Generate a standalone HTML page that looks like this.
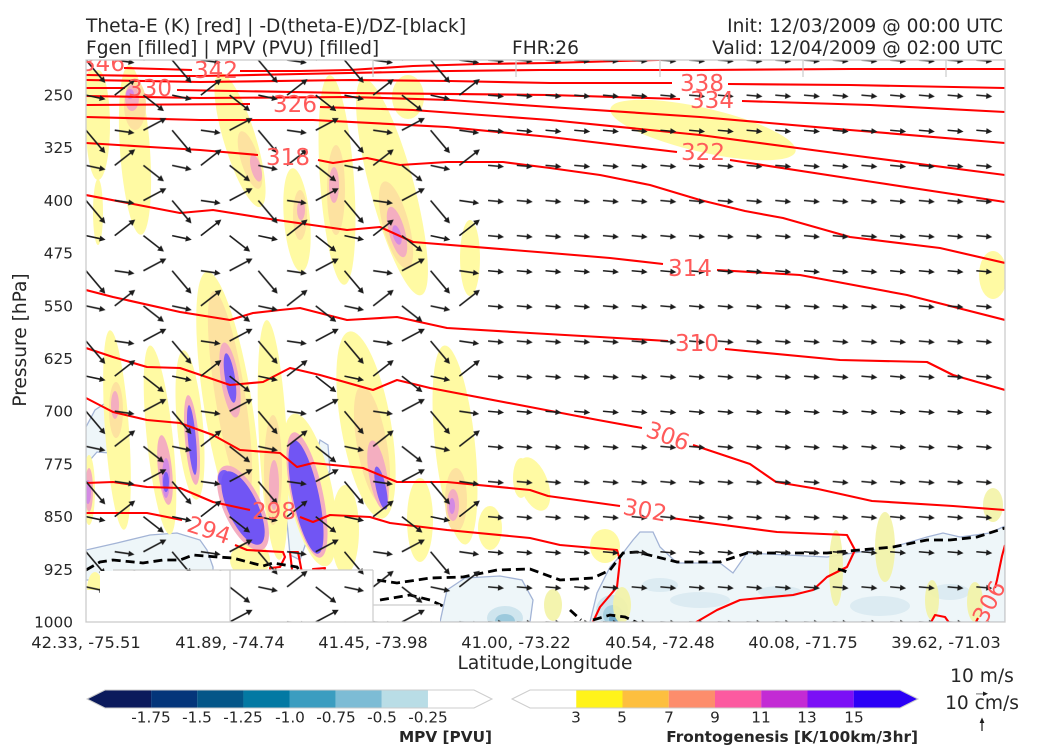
<!DOCTYPE html>
<html><head><meta charset="utf-8"><style>
html,body{margin:0;padding:0;background:#fff;}
svg{display:block;font-family:"DejaVu Sans","Liberation Sans",sans-serif;}
</style></head><body>
<svg width="1050" height="750" viewBox="0 0 1050 750" xmlns="http://www.w3.org/2000/svg">
<defs>
<clipPath id="pc"><rect x="86" y="60" width="919" height="562"/></clipPath>
<path id="a16" d="M0,-0.8H10V-3L16,0L10,3V0.8H0Z" fill="#1c1c1c"/>
<path id="a20" d="M0,-0.8H14V-3L20,0L14,3V0.8H0Z" fill="#1c1c1c"/>
<path id="a26" d="M0,-0.8H20V-3.2L26,0L20,3.2V0.8H0Z" fill="#1c1c1c"/>
<path id="a30" d="M0,-0.8H24V-3.2L30,0L24,3.2V0.8H0Z" fill="#1c1c1c"/>
<pattern id="pR" x="80" y="42.44" width="28.72" height="35.125" patternUnits="userSpaceOnUse">
<use href="#a16" transform="translate(6,17.56) rotate(5)"/>
</pattern>
<pattern id="pLA" x="84" y="30" width="86.16" height="70.25" patternUnits="userSpaceOnUse">
<use href="#a30" transform="translate(2,30) rotate(50)"/>
<use href="#a20" transform="translate(30.72,30) rotate(8)"/>
<use href="#a26" transform="translate(59.44,30) rotate(-28)"/>
</pattern>
<pattern id="pLB" x="84" y="65.125" width="86.16" height="70.25" patternUnits="userSpaceOnUse">
<use href="#a20" transform="translate(2,30) rotate(12)"/>
<use href="#a26" transform="translate(30.72,30) rotate(-38)"/>
<use href="#a26" transform="translate(59.44,30) rotate(38)"/>
</pattern>
</defs>

<!-- Titles -->
<g fill="#262626" font-size="18.6">
<text x="86" y="32">Theta-E (K) [red] | -D(theta-E)/DZ-[black]</text>
<text x="86" y="54">Fgen [filled] | MPV (PVU) [filled]</text>
<text x="512" y="54">FHR:26</text>
<text x="1003" y="32" text-anchor="end">Init: 12/03/2009 @ 00:00 UTC</text>
<text x="1003" y="54" text-anchor="end">Valid: 12/04/2009 @ 02:00 UTC</text>
</g>

<g clip-path="url(#pc)">
<rect x="86" y="60" width="919" height="562" fill="#fff"/>

<!-- MPV light blue regions -->
<g fill="#eef6f9" stroke="#a3b4d6" stroke-width="1.3">
<path d="M590,622 L597,593 L610,567 L623,553 L633,540 L640,532 L653,532 L660,547 L677,563 L720,563 L733,573 L747,553 L827,557 L860,552 L893,547 L927,537 L943,533 L960,537 L990,533 L1005,526 L1005,622 Z"/>
<path d="M440,622 L447,590 L465,578 L500,576 L522,580 L533,600 L530,622 Z"/>
<path d="M86,550 L117,543 L150,535 L177,533 L200,540 L207,550 L213,567 L213,580 L86,580 Z"/>
<path d="M86,427 L95,410 L107,402 L110,417 L113,433 L120,443 L110,453 L97,452 L90,460 L86,462 Z"/>
<path d="M287,440 L293,430 L300,445 L305,480 L307,540 L300,560 L290,555 L285,500 Z"/>
<path d="M313,470 L320,440 L328,445 L330,470 L322,490 L315,487 Z"/>
<path d="M360,440 L365,418 L375,420 L378,450 L372,478 L362,470 Z"/>
<path d="M177,410 L183,400 L188,420 L186,440 L179,437 Z"/>
</g>
<g stroke="none">
<ellipse cx="700" cy="600" rx="30" ry="8" fill="#dcebf2"/>
<ellipse cx="780" cy="592" rx="22" ry="6" fill="#dcebf2"/>
<ellipse cx="880" cy="606" rx="30" ry="10" fill="#dcebf2"/>
<ellipse cx="950" cy="592" rx="20" ry="8" fill="#dcebf2"/>
<ellipse cx="660" cy="585" rx="18" ry="7" fill="#dcebf2"/>
<ellipse cx="612" cy="610" rx="16" ry="15" fill="#cfe5ee"/>
<ellipse cx="613" cy="615" rx="10" ry="10" fill="#a8d0e0"/>
<ellipse cx="614" cy="619" rx="5" ry="5" fill="#6fa8c8"/>
<ellipse cx="505" cy="618" rx="18" ry="12" fill="#cfe5ee"/>
<ellipse cx="505" cy="621" rx="10" ry="7" fill="#9cc9dc"/>
</g>

<!-- Frontogenesis blobs -->
<g stroke="none">
<g fill="#fffaa3">
<ellipse cx="98" cy="125" rx="12" ry="55"/>
<ellipse cx="92" cy="88" rx="8" ry="18"/>
<ellipse cx="98" cy="212" rx="5" ry="33"/>
<ellipse cx="135" cy="150" rx="15" ry="85" transform="rotate(-4 135 150)"/>
<ellipse cx="240" cy="140" rx="16" ry="70" transform="rotate(-17 240 140)"/>
<ellipse cx="297" cy="220" rx="13" ry="52" transform="rotate(-5 297 220)"/>
<ellipse cx="337" cy="180" rx="17" ry="105" transform="rotate(-4 337 180)"/>
<ellipse cx="392" cy="187" rx="22" ry="112" transform="rotate(-15 392 187)"/>
<ellipse cx="408" cy="97" rx="16" ry="22"/>
<ellipse cx="470" cy="258" rx="10" ry="38"/>
<ellipse cx="703" cy="130" rx="95" ry="22" transform="rotate(13 703 130)"/>
<ellipse cx="993" cy="275" rx="14" ry="24"/>
<ellipse cx="89" cy="490" rx="6" ry="35"/>
<ellipse cx="117" cy="430" rx="12" ry="100" transform="rotate(-4 117 430)"/>
<ellipse cx="160" cy="440" rx="13" ry="95" transform="rotate(-6 160 440)"/>
<ellipse cx="190" cy="425" rx="13" ry="75" transform="rotate(-5 190 425)"/>
<ellipse cx="228" cy="405" rx="24" ry="135" transform="rotate(-9 228 405)"/>
<ellipse cx="273" cy="440" rx="14" ry="120" transform="rotate(-3 273 440)"/>
<ellipse cx="310" cy="490" rx="22" ry="78" transform="rotate(-12 310 490)"/>
<ellipse cx="345" cy="530" rx="14" ry="45"/>
<ellipse cx="366" cy="425" rx="25" ry="95" transform="rotate(-10 366 425)"/>
<ellipse cx="420" cy="520" rx="13" ry="42"/>
<ellipse cx="455" cy="445" rx="20" ry="100" transform="rotate(-6 455 445)"/>
<ellipse cx="521" cy="478" rx="8" ry="20"/>
<ellipse cx="534" cy="484" rx="14" ry="28" transform="rotate(-20 534 484)"/>
<ellipse cx="490" cy="528" rx="12" ry="22"/>
<ellipse cx="605" cy="546" rx="15" ry="17"/>
<ellipse cx="95" cy="590" rx="8" ry="18"/>
<ellipse cx="250" cy="560" rx="20" ry="18"/>
</g>
<g fill="#f3f3a6" opacity="0.9">
<ellipse cx="836" cy="568" rx="7" ry="38"/>
<ellipse cx="885" cy="547" rx="10" ry="35"/>
<ellipse cx="993" cy="505" rx="10" ry="17"/>
<ellipse cx="932" cy="600" rx="7" ry="20"/>
<ellipse cx="975" cy="602" rx="8" ry="20"/>
<ellipse cx="553" cy="605" rx="9" ry="16"/>
<ellipse cx="622" cy="605" rx="9" ry="18"/>
</g>
<g fill="#fde2a0">
<ellipse cx="135" cy="105" rx="11" ry="25"/>
<ellipse cx="250" cy="160" rx="9" ry="30" transform="rotate(-17 250 160)"/>
<ellipse cx="300" cy="215" rx="7" ry="25"/>
<ellipse cx="336" cy="190" rx="9" ry="45"/>
<ellipse cx="396" cy="225" rx="13" ry="45" transform="rotate(-15 396 225)"/>
<ellipse cx="116" cy="410" rx="7" ry="28"/>
<ellipse cx="230" cy="395" rx="15" ry="105" transform="rotate(-9 230 395)"/>
<ellipse cx="273" cy="470" rx="9" ry="55"/>
<ellipse cx="372" cy="445" rx="15" ry="60" transform="rotate(-10 372 445)"/>
<ellipse cx="456" cy="500" rx="11" ry="32"/>
<ellipse cx="250" cy="520" rx="14" ry="32" transform="rotate(-20 250 520)"/>
</g>
<g fill="#f4aec0">
<ellipse cx="132" cy="98" rx="7" ry="13"/>
<ellipse cx="256" cy="168" rx="5" ry="14" transform="rotate(-15 256 168)"/>
<ellipse cx="301" cy="210" rx="4" ry="10"/>
<ellipse cx="334" cy="185" rx="5" ry="18"/>
<ellipse cx="397" cy="232" rx="8" ry="26" transform="rotate(-15 397 232)"/>
<ellipse cx="89" cy="490" rx="4" ry="22"/>
<ellipse cx="115" cy="405" rx="4" ry="14"/>
<ellipse cx="165" cy="470" rx="7" ry="35" transform="rotate(-6 165 470)"/>
<ellipse cx="192" cy="440" rx="7" ry="45" transform="rotate(-5 192 440)"/>
<ellipse cx="230" cy="380" rx="9" ry="38" transform="rotate(-9 230 380)"/>
<ellipse cx="274" cy="485" rx="5" ry="25"/>
<ellipse cx="378" cy="475" rx="9" ry="35" transform="rotate(-10 378 475)"/>
<ellipse cx="453" cy="505" rx="6" ry="16"/>
<ellipse cx="243" cy="508" rx="19" ry="46" transform="rotate(-25 243 508)"/>
<ellipse cx="307" cy="495" rx="16" ry="64" transform="rotate(-12 307 495)"/>
</g>
<g fill="#d38ae4">
<ellipse cx="130" cy="94" rx="4" ry="5"/>
<ellipse cx="397" cy="235" rx="4" ry="10" transform="rotate(-15 397 235)"/>
<ellipse cx="88" cy="492" rx="3" ry="12"/>
<ellipse cx="166" cy="478" rx="4" ry="20"/>
<ellipse cx="452" cy="506" rx="3" ry="8"/>
</g>
<g fill="#7a5cf5">
<ellipse cx="166" cy="482" rx="3" ry="10"/>
<ellipse cx="192" cy="440" rx="4" ry="35" transform="rotate(-5 192 440)"/>
<ellipse cx="230" cy="378" rx="5" ry="25" transform="rotate(-9 230 378)"/>
<ellipse cx="381" cy="488" rx="5" ry="22" transform="rotate(-12 381 488)"/>
<ellipse cx="224" cy="478" rx="6" ry="8"/>
</g>
<g fill="#7155f4">
<ellipse cx="243" cy="508" rx="15" ry="40" transform="rotate(-25 243 508)"/>
<ellipse cx="306" cy="497" rx="13" ry="58" transform="rotate(-12 306 497)"/>
</g>
</g>

<!-- red contours -->
<g fill="none" stroke="#ff0000" stroke-width="2.1" stroke-linejoin="round">
<polyline points="124,68 160,69 192,70"/>
<polyline points="240,71 300,71 350,70 413,66 480,64 550,63 620,61 695,59"/>
<polyline points="86,75 150,76 200,76 300,74 450,71 540,70 700,70 850,69 1005,69"/>
<polyline points="86,80 200,82 350,80 450,81 550,83 672,83"/>
<polyline points="728,84 850,85 1005,88"/>
<polyline points="86,88 125,88"/>
<polyline points="177,90 347,93 550,95 680,99"/>
<polyline points="742,101 870,105 1005,112"/>
<polyline points="86,96 200,98 350,97 450,100 550,107 700,117 850,130 1005,143"/>
<polyline points="86,105 250,104"/>
<polyline points="320,107 413,110 550,120 700,135 850,155 1005,175"/>
<polyline points="86,117 200,120 313,120 447,127 550,137 677,152"/>
<polyline points="730,160 873,182 1005,202"/>
<polyline points="86,143 150,147 200,150 258,155"/>
<polyline points="318,160 333,163 367,158 400,165 447,162 503,162 550,168 600,175 650,185 700,200 745,211 783,218 850,237 940,248 1005,263"/>
<polyline points="86,195 180,213 213,210 263,218 347,230 380,227 413,242 550,253 610,258 663,264"/>
<polyline points="717,270 800,275 907,295 1005,320"/>
<polyline points="86,290 113,297 180,312 230,320 253,313 280,310 300,308 347,320 397,317 447,328 530,333 600,337 668,341"/>
<polyline points="725,349 840,360 927,362 953,375 1005,390"/>
<polyline points="86,348 113,357 147,367 180,368 230,385 263,382 290,368 320,375 373,390 397,380 430,388 530,407 598,420 642,428"/>
<polyline points="693,445 750,464 776,482 818,489 872,501 953,506 1005,510"/>
<polyline points="86,398 113,412 147,420 180,423 213,435 240,450 280,453 297,467 313,463 363,468 397,482 447,482 530,490 548,496 620,506"/>
<polyline points="671,518 777,532 847,535 855,550 847,567 827,577 813,590 793,595 760,598 740,600 717,610 693,624"/>
<polyline points="86,483 113,482 147,487 180,488 213,502 250,510"/>
<polyline points="300,517 313,522 330,515 370,517 390,523 447,530 530,538 560,545 617,550 620,560 617,587 600,607 592,624"/>
<polyline points="86,513 147,513 182,520"/>
<polyline points="235,545 247,550 283,552 285,557 280,567 270,568 273,587 272,606"/>
<polygon points="290,552 298,552 302,573 293,578"/>
<polygon points="313,569 325,568 323,575 315,576"/>
<polyline points="1005,545 1002,556 997,580 995,588"/>
<polyline points="978,618 975,624"/>
<polyline points="930,624 935,615 945,617 950,624"/>
</g>

<!-- dashed -->
<g fill="none" stroke="#000" stroke-width="2.8" stroke-dasharray="9,5">
<polyline points="86,570 100,562 113,560 143,563 163,560 180,560 193,555 217,557 233,558 263,566 273,563 297,567 310,586 327,580 363,578 397,583 430,578 463,577 497,570 530,569 560,580 593,578 610,570 623,553 637,552 657,557 677,562 720,562 747,553 827,553 893,547 927,540 950,540 977,537 1005,528"/>
<polyline points="380,600 410,595 430,600 445,607"/>
<polyline points="570,610 581,620"/>
<polyline points="593,620 610,615 625,617 640,624"/>
<polyline points="838,569 845,571 843,576"/>
</g>

<!-- masked regions -->
<polygon points="86,590 100,590 113,570 230,570 230,622 86,622" fill="#fff"/>
<rect x="230" y="570" width="143" height="52" fill="#fff"/>
<rect x="373" y="605" width="67" height="17" fill="#fff"/>

<!-- arrows -->
<rect x="86" y="42" width="400" height="580" fill="url(#pLA)"/>
<rect x="86" y="42" width="400" height="580" fill="url(#pLB)"/>
<rect x="486" y="42" width="519" height="580" fill="url(#pR)"/>
<rect x="100" y="571" width="129.5" height="51" fill="#fff"/>

<g stroke="#cccccc" stroke-width="1.2" fill="none">
<polyline points="113,570 373,570"/>
<line x1="230" y1="570" x2="230" y2="622"/>
<line x1="373" y1="570" x2="373" y2="622"/>
<line x1="373" y1="605" x2="440" y2="605"/>
<line x1="373" y1="60" x2="373" y2="77"/>
<line x1="516" y1="60" x2="516" y2="77"/>
<line x1="660" y1="60" x2="660" y2="77"/>
<line x1="803" y1="60" x2="803" y2="77"/>
<line x1="946" y1="60" x2="946" y2="77"/>
</g>

<!-- contour labels -->
<g fill="#ff5a5a" font-size="23" text-anchor="middle">
<text x="103" y="71">346</text>
<text x="216" y="78">342</text>
<text x="150" y="96">330</text>
<text x="295" y="112">326</text>
<text x="288" y="165">318</text>
<text x="702" y="91">338</text>
<text x="712" y="108">334</text>
<text x="703" y="160">322</text>
<text x="690" y="276">314</text>
<text x="697" y="351">310</text>
<text transform="translate(668,436) rotate(20)" y="8">306</text>
<text transform="translate(645,510) rotate(10)" y="8">302</text>
<text x="274" y="519">298</text>
<text transform="translate(209,530) rotate(18)" y="8">294</text>
<text transform="translate(989,602) rotate(-62)" y="8">306</text>
</g>
</g>

<!-- frame -->
<rect x="86" y="60" width="919" height="562" fill="none" stroke="#cccccc" stroke-width="1.3"/>

<!-- y ticks -->
<g fill="#262626" font-size="15.3" text-anchor="end">
<text x="73" y="100.5">250</text>
<text x="73" y="153.2">325</text>
<text x="73" y="205.9">400</text>
<text x="73" y="258.6">475</text>
<text x="73" y="311.3">550</text>
<text x="73" y="364">625</text>
<text x="73" y="416.7">700</text>
<text x="73" y="469.4">775</text>
<text x="73" y="522.1">850</text>
<text x="73" y="574.8">925</text>
<text x="73" y="627.5">1000</text>
</g>
<text transform="translate(26,340) rotate(-90)" text-anchor="middle" font-size="18.6" fill="#262626">Pressure [hPa]</text>

<!-- x ticks -->
<g fill="#262626" font-size="16.3" text-anchor="middle">
<text x="86" y="648">42.33, -75.51</text>
<text x="230" y="648">41.89, -74.74</text>
<text x="373" y="648">41.45, -73.98</text>
<text x="516" y="648">41.00, -73.22</text>
<text x="660" y="648">40.54, -72.48</text>
<text x="803" y="648">40.08, -71.75</text>
<text x="946" y="648">39.62, -71.03</text>
</g>
<text x="545" y="669" text-anchor="middle" font-size="18.6" fill="#262626">Latitude,Longitude</text>

<!-- MPV colorbar -->
<polygon points="87,699 105,690 151.1,690 151.1,708 105,708" fill="#0b1a5c"/>
<rect x="151.1" y="690" width="46.2" height="18" fill="#04357a"/>
<rect x="197.25" y="690" width="46.2" height="18" fill="#045688"/>
<rect x="243.4" y="690" width="46.2" height="18" fill="#0379a3"/>
<rect x="289.5" y="690" width="46.2" height="18" fill="#3b9dc0"/>
<rect x="335.6" y="690" width="46.2" height="18" fill="#7dbcd5"/>
<rect x="381.75" y="690" width="46.2" height="18" fill="#b9dde6"/>
<polygon points="87,699 105,690 474,690 492,699 474,708 105,708" fill="none" stroke="#cccccc" stroke-width="1"/>
<g fill="#262626" font-size="15.3" text-anchor="middle">
<text x="151" y="722.5">-1.75</text>
<text x="197" y="722.5">-1.5</text>
<text x="243" y="722.5">-1.25</text>
<text x="290" y="722.5">-1.0</text>
<text x="336" y="722.5">-0.75</text>
<text x="382" y="722.5">-0.5</text>
<text x="428" y="722.5">-0.25</text>
</g>
<text x="492" y="742" text-anchor="end" font-size="15.3" font-weight="bold" fill="#262626">MPV [PVU]</text>

<!-- Fgen colorbar -->
<rect x="576.25" y="690" width="46.3" height="18" fill="#fff31a"/>
<rect x="622.5" y="690" width="46.3" height="18" fill="#fdbf3f"/>
<rect x="668.75" y="690" width="46.3" height="18" fill="#fd8d6c"/>
<rect x="715" y="690" width="46.3" height="18" fill="#fc5aa0"/>
<rect x="761.25" y="690" width="46.3" height="18" fill="#c32bd4"/>
<rect x="807.5" y="690" width="46.3" height="18" fill="#7b0ff6"/>
<polygon points="853.75,690 900,690 918,699 900,708 853.75,708" fill="#2b00f6"/>
<polygon points="512,699 530,690 900,690 918,699 900,708 530,708" fill="none" stroke="#cccccc" stroke-width="1"/>
<g fill="#262626" font-size="15.3" text-anchor="middle">
<text x="576" y="722.5">3</text>
<text x="622" y="722.5">5</text>
<text x="669" y="722.5">7</text>
<text x="715" y="722.5">9</text>
<text x="761" y="722.5">11</text>
<text x="807" y="722.5">13</text>
<text x="854" y="722.5">15</text>
</g>
<text x="918" y="742" text-anchor="end" font-size="15.3" font-weight="bold" fill="#262626">Frontogenesis [K/100km/3hr]</text>

<!-- vector key -->
<g fill="#262626" font-size="18.6" text-anchor="middle">
<text x="982" y="682">10 m/s</text>
<text x="982" y="709">10 cm/s</text>
</g>
<path d="M976,693.6H983V691.5L988,693.8L983,696V694.2H976Z" fill="#1c1c1c"/>
<path d="M981.4,731V723H979.6L982,717.5L984.4,723H982.6V731Z" fill="#1c1c1c"/>
</svg>
</body></html>
